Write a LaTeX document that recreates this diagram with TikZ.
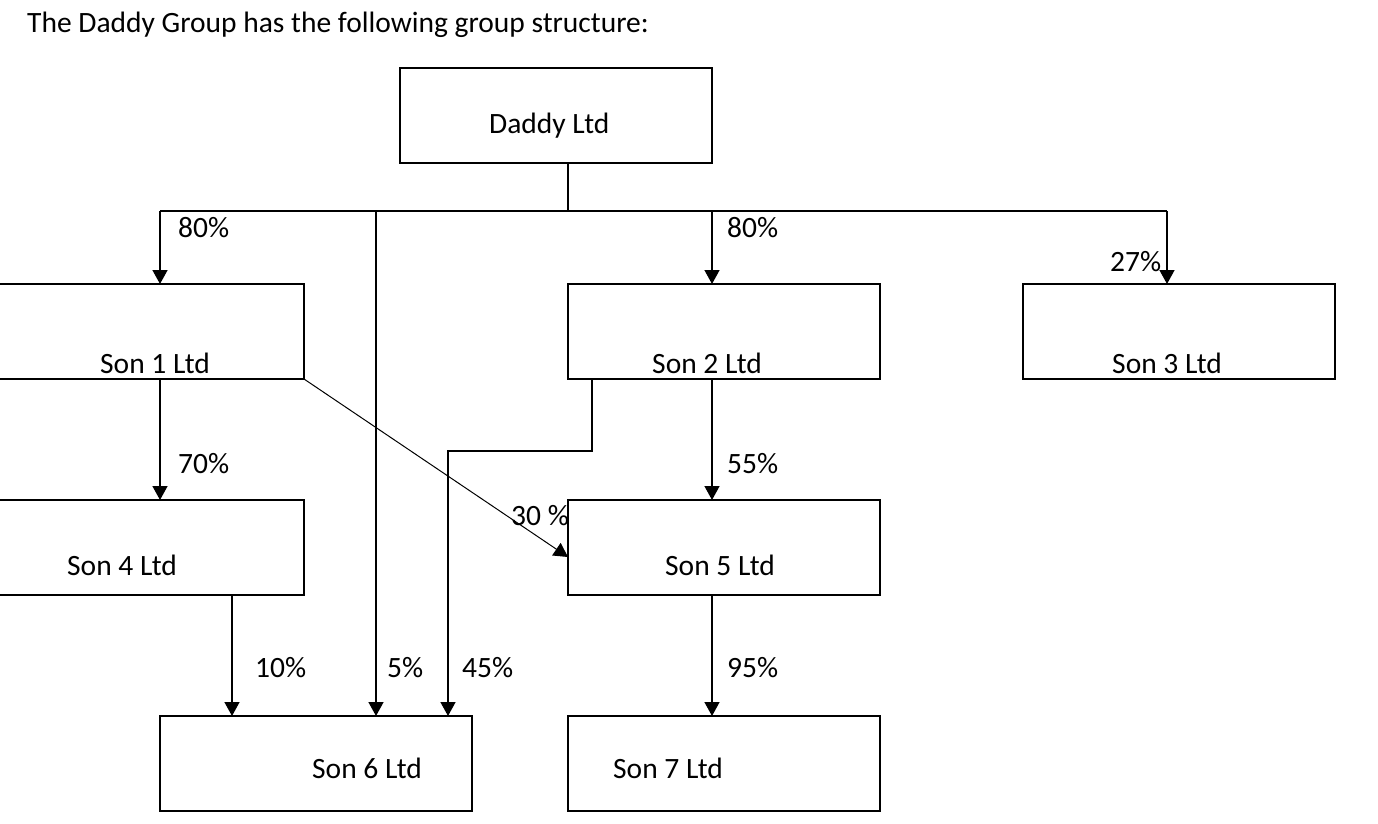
\documentclass[tikz,border=0pt]{standalone}
\usepackage{fontspec}
\setmainfont{Carlito}
\usetikzlibrary{arrows.meta}
\begin{document}
\begin{tikzpicture}[x=1pt,y=-1pt,
  box/.style={draw,line width=1.5pt,minimum width=312pt,minimum height=95pt,inner sep=0pt,outer sep=0pt,anchor=north west},
  txt/.style={anchor=base west,inner sep=0pt,font=\fontsize{29.5}{35}\selectfont},
  conn/.style={line width=1.5pt},
  arr/.style={line width=1.5pt,-{Triangle[width=15pt,length=14pt]}},
  thinarr/.style={line width=1pt,-{Triangle[width=15pt,length=14pt]}}]
\useasboundingbox (0,0) rectangle (1378,824);
% title
\node[txt] (title) at (27,33) {The Daddy Group has the following group structure:};
% boxes
\node[box] (daddy) at (400,68) {};
\node[box,minimum width=320pt] (s1) at (-16,284) {};
\node[box] (s2) at (568,284) {};
\node[box] (s3) at (1023,284) {};
\node[box,minimum width=320pt] (s4) at (-16,500) {};
\node[box] (s5) at (568,500) {};
\node[box] (s6) at (160,716) {};
\node[box] (s7) at (568,716) {};
% box texts
\node[txt] (td) at (489,134) {Daddy Ltd};
\node[txt] (t1) at (100,373) {Son 1 Ltd};
\node[txt] (t2) at (652,373) {Son 2 Ltd};
\node[txt] (t3) at (1112,373) {Son 3 Ltd};
\node[txt] (t4) at (67,575) {Son 4 Ltd};
\node[txt] (t5) at (665,575) {Son 5 Ltd};
\node[txt] (t6) at (312,778) {Son 6 Ltd};
\node[txt] (t7) at (613,778) {Son 7 Ltd};
% coordinates
\coordinate (dj) at (568,163);
\coordinate (bj) at (568,211);
\coordinate (busL) at (160,211);
\coordinate (busR) at (1167,211);
\coordinate (b5) at (376,211);
\coordinate (b80) at (712,211);
\coordinate (k1) at (592,379);
\coordinate (k2) at (592,451);
\coordinate (k3) at (448,451);
\coordinate (c4) at (232,595);
\coordinate (d30) at (568,557);
% connectors
\draw[conn] (dj) -- (bj);
\draw[conn] (busL) -- (busR);
\draw[arr] (busL) -- (busL |- s1.north);
\draw[arr] (b5) -- (b5 |- s6.north);
\draw[arr] (b80) -- (b80 |- s2.north);
\draw[arr] (busR) -- (busR |- s3.north);
\draw[arr] (busL |- s1.south) -- (busL |- s4.north);
\draw[thinarr] (s1.south east) -- (d30);
\draw[arr] (k1) -- (k2) -- (k3) -- (k3 |- s6.north);
\draw[arr] (b80 |- s2.south) -- (b80 |- s5.north);
\draw[arr] (c4) -- (c4 |- s6.north);
\draw[arr] (b80 |- s5.south) -- (b80 |- s7.north);
% labels
\node[txt] (l1) at (178,237) {80\%};
\node[txt] (l2) at (727,237) {80\%};
\node[txt] (l3) at (1110,271) {27\%};
\node[txt] (l4) at (178,473) {70\%};
\node[txt] (l5) at (727,473) {55\%};
\node[txt] (l6) at (511,525) {30 \%};
\node[txt] (l7) at (255,677) {10\%};
\node[txt] (l8) at (387,677) {5\%};
\node[txt] (l9) at (462,677) {45\%};
\node[txt] (l10) at (727,677) {95\%};
\end{tikzpicture}
\end{document}
